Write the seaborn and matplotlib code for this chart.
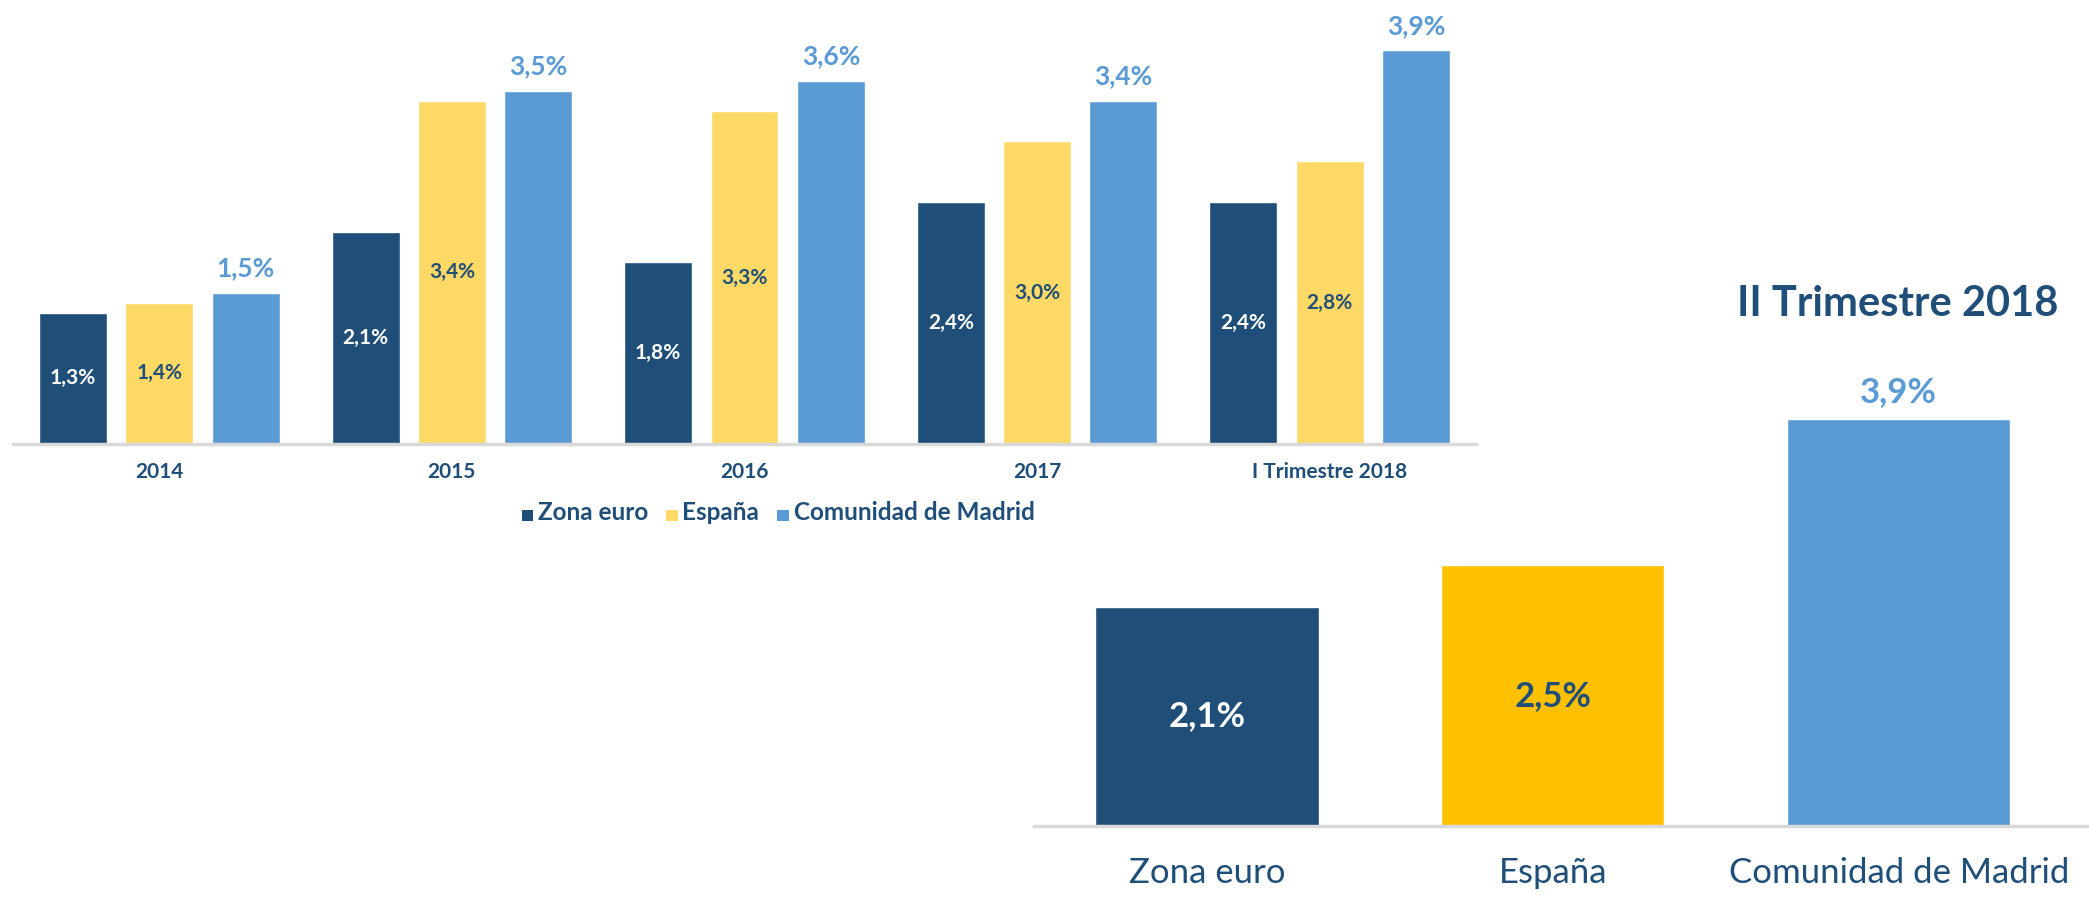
import matplotlib
matplotlib.use("Agg")
import matplotlib.pyplot as plt
from matplotlib.patches import Patch
import seaborn as sns
import pandas as pd

# Datos del gráfico
periodos = ["2014", "2015", "2016", "2017", "I Trimestre 2018"]
series = ["Zona euro", "España", "Comunidad de Madrid"]
zona_euro = [1.3, 2.1, 1.8, 2.4, 2.4]
espana = [1.4, 3.4, 3.3, 3.0, 2.8]
madrid = [1.5, 3.5, 3.6, 3.4, 3.9]

titulo_t2 = "II Trimestre 2018"
valores_t2 = [2.1, 2.5, 3.9]

AZUL_OSCURO = "#1F4E79"
AMARILLO_CLARO = "#FFD966"
AMARILLO = "#FFC000"
AZUL_CLARO = "#5B9BD5"
GRIS = "#D9D9D9"
colores_izq = [AZUL_OSCURO, AMARILLO_CLARO, AZUL_CLARO]


def fmt(v):
    return f"{v:.1f}".replace(".", ",") + "%"


sns.set_theme(style="white")
plt.rcParams["font.family"] = ["Lato", "DejaVu Sans"]

df = pd.DataFrame({
    "periodo": periodos * 3,
    "serie": [series[0]] * 5 + [series[1]] * 5 + [series[2]] * 5,
    "valor": zona_euro + espana + madrid,
})

fig = plt.figure(figsize=(20.89, 8.97), dpi=100)

# Gráfico derecho: II Trimestre 2018 (se crea primero, fondo transparente)
ax2 = fig.add_axes([1034 / 2089, 1 - 826 / 897, 1055 / 2089, 626 / 897])
ax2.set_facecolor("none")
sns.barplot(x=series, y=valores_t2, hue=series,
            palette=[AZUL_OSCURO, AMARILLO, AZUL_CLARO], width=0.645,
            saturation=1, legend=False, ax=ax2)
ax2.set_xlim(-0.5, 2.55)
ax2.set_ylim(0, 6.0)

for i, cont in enumerate(ax2.containers):
    v = valores_t2[i]
    if i == 0:
        ax2.bar_label(cont, labels=[fmt(v)], label_type="center", color="white",
                      fontsize=25, fontweight="bold")
    elif i == 1:
        ax2.bar_label(cont, labels=[fmt(v)], label_type="center", color=AZUL_OSCURO,
                      fontsize=25, fontweight="bold")
    else:
        ax2.bar_label(cont, labels=[fmt(v)], label_type="edge", padding=8,
                      color=AZUL_CLARO, fontsize=25, fontweight="bold")

ax2.set_yticks([])
ax2.tick_params(axis="x", length=0, pad=22)
for lab in ax2.get_xticklabels():
    lab.set_fontsize(25)
    lab.set_color(AZUL_OSCURO)
for s in ["top", "left", "right"]:
    ax2.spines[s].set_visible(False)
ax2.spines["bottom"].set_color(GRIS)
ax2.spines["bottom"].set_linewidth(2.5)

# Gráfico izquierdo: evolución anual
ax1 = fig.add_axes([13 / 2089, 1 - 444 / 897, 1463 / 2089, 444 / 897])
ax1.set_facecolor("none")
sns.barplot(data=df, x="periodo", y="valor", hue="serie", order=periodos,
            hue_order=series, palette=colores_izq,
            width=0.885, gap=0.214, saturation=1, legend=False, ax=ax1)
ax1.set_xlim(-0.5, 4.5)
ax1.set_ylim(0, 4.4)

colores_txt = ["white", AZUL_OSCURO]
for i, cont in enumerate(ax1.containers):
    vals = [zona_euro, espana, madrid][i]
    if i < 2:
        ax1.bar_label(cont, labels=[fmt(v) for v in vals], label_type="center",
                      color=colores_txt[i], fontsize=15, fontweight="bold")
    else:
        ax1.bar_label(cont, labels=[fmt(v) for v in vals], label_type="edge",
                      padding=9, color=AZUL_CLARO, fontsize=19, fontweight="bold")

ax1.set_xlabel("")
ax1.set_ylabel("")
ax1.set_yticks([])
ax1.tick_params(axis="x", length=0, pad=13)
for lab in ax1.get_xticklabels():
    lab.set_fontsize(15)
    lab.set_fontweight("bold")
    lab.set_color(AZUL_OSCURO)
for s in ["top", "left", "right"]:
    ax1.spines[s].set_visible(False)
ax1.spines["bottom"].set_color(GRIS)
ax1.spines["bottom"].set_linewidth(2.5)

handles = [Patch(facecolor=c, edgecolor="none", label=s)
           for c, s in zip(colores_izq, series)]
leg = fig.legend(handles=handles, loc="center", ncol=3,
                 bbox_to_anchor=(778 / 2089, 1 - 513 / 897), frameon=False,
                 handlelength=0.75, handleheight=0.75, handletextpad=0.3,
                 columnspacing=1.2, borderaxespad=0)
for t in leg.get_texts():
    t.set_fontsize(17.5)
    t.set_fontweight("bold")
    t.set_color(AZUL_OSCURO)

fig.text(2058 / 2089, 1 - 304 / 897, titulo_t2, ha="right", va="center",
         fontsize=30, fontweight="bold", color=AZUL_OSCURO)

fig.savefig("out.png", dpi=100)
